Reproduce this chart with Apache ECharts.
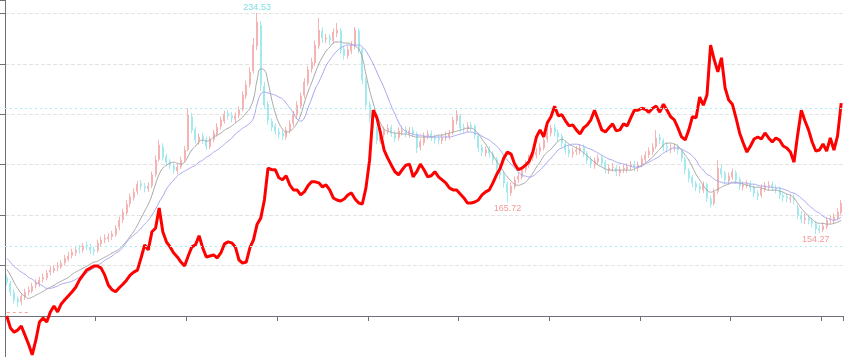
<!DOCTYPE html>
<html><head><meta charset="utf-8">
<script src="https://cdn.jsdelivr.net/npm/echarts@6/dist/echarts.min.js"></script>
<style>html,body{margin:0;padding:0;background:#fff}#c{width:863px;height:357px}</style>
</head><body><div id="c"></div>
<script>
// [open, close, low, high]
const candleData = [
[138.5,136.8,135.6,139.4],[136.5,133.2,131.9,137.3],[133.0,130.3,129.1,134.2],[130.8,129.6,127.9,131.7],[129.8,131.7,128.6,132.9],
[131.5,133.2,130.4,134.5],[133.4,133.9,132.0,135.3],[133.6,135.4,132.8,136.6],[135.8,136.5,134.6,137.9],[136.2,137.6,135.1,138.8],
[137.9,138.6,136.7,140.0],[138.4,140.1,137.5,141.2],[140.5,141.2,139.3,142.6],[141.0,141.9,140.1,143.0],[142.3,142.6,140.8,144.1],
[142.4,143.7,141.6,144.8],[143.9,145.5,142.9,146.7],[145.2,146.3,144.4,147.8],[146.6,147.7,145.5,149.0],[147.5,148.4,146.3,149.6],
[148.9,148.8,147.2,150.4],[148.6,149.9,147.6,151.1],[150.3,149.9,148.4,151.6],[149.6,148.4,147.1,150.8],[148.6,148.1,146.5,149.7],
[148.4,151.0,147.6,152.3],[150.8,152.1,149.9,153.4],[152.4,152.8,151.0,154.2],[152.6,153.2,151.4,154.6],[153.4,154.3,152.2,155.5],
[154.1,156.4,153.3,157.6],[156.8,159.3,155.7,160.6],[159.5,162.2,158.4,163.5],[162.0,165.1,161.2,166.6],[165.4,167.7,164.1,169.0],
[167.5,169.5,166.4,170.9],[169.8,172.4,168.6,173.6],[172.6,171.7,170.2,173.9],[171.5,171.0,169.4,172.8],[170.8,171.7,169.6,173.1],
[171.9,175.7,171.0,177.0],[175.9,181.1,175.0,182.8],[181.4,186.6,180.6,188.4],[186.0,182.2,181.0,187.2],[182.4,180.4,179.1,183.5],
[180.6,179.3,177.8,181.6],[179.0,177.5,176.2,180.0],[177.3,178.6,176.0,179.8],[178.8,181.1,177.9,182.4],[181.3,184.8,180.5,186.2],
[185.0,197.5,184.3,200.0],[196.8,192.0,190.9,198.3],[192.3,188.4,187.1,193.2],[188.0,189.5,186.7,190.8],[189.8,188.4,187.0,191.0],
[188.6,186.2,184.8,189.5],[186.0,188.4,185.1,189.7],[188.6,190.9,187.6,192.2],[190.5,193.1,189.6,194.5],[193.4,195.6,192.2,196.9],
[195.3,197.8,194.4,199.0],[198.1,197.1,195.8,199.4],[197.3,196.4,194.9,198.5],[196.0,197.1,194.8,198.4],[197.4,199.3,196.3,200.6],
[199.6,204.7,198.8,206.1],[204.4,208.4,203.3,210.0],[208.7,213.1,207.5,214.8],[213.5,222.9,212.6,225.4],[222.5,231.2,221.0,234.53],
[230.0,208.4,206.2,231.5],[208.0,201.1,199.8,209.5],[201.5,195.6,194.0,202.6],[195.2,193.1,191.6,196.3],[193.4,191.7,190.2,194.5],
[191.3,190.6,189.1,192.7],[190.9,189.8,188.3,192.0],[189.6,192.0,188.5,193.3],[191.8,194.2,190.7,195.6],[194.5,197.8,193.3,199.0],
[197.5,201.1,196.4,202.5],[200.8,204.4,199.7,205.7],[204.7,209.4,203.5,210.8],[209.1,213.8,208.0,215.3],[214.2,216.7,212.9,218.2],
[216.4,222.9,215.3,224.5],[222.6,228.3,221.5,232.7],[228.0,225.4,223.6,229.3],[225.0,225.4,223.5,227.0],[225.8,224.7,222.9,226.9],
[224.4,227.6,223.3,228.9],[227.2,228.3,225.8,230.9],[228.0,221.1,219.6,229.0],[221.4,219.2,217.6,222.7],[219.0,221.1,217.9,222.5],
[220.8,222.9,219.6,224.3],[222.6,228.3,221.4,229.4],[228.0,221.1,219.8,228.9],[221.4,210.2,208.6,222.0],[210.0,201.1,199.4,211.2],
[201.4,196.4,194.8,202.5],[196.6,192.7,191.2,197.5],[192.5,188.4,186.9,193.4],[188.0,190.2,187.1,191.5],[190.4,192.0,189.2,193.3],
[191.8,192.7,190.5,194.2],[193.0,190.9,189.6,194.0],[190.6,189.1,187.7,191.8],[189.4,191.7,188.3,193.0],[191.4,192.0,190.1,193.6],
[192.3,190.9,189.4,193.4],[190.6,191.7,189.3,193.1],[192.0,190.9,189.5,193.2],[190.6,185.5,183.7,191.4],[185.8,187.7,184.6,188.9],
[187.4,189.8,186.4,191.1],[190.0,190.6,188.6,192.0],[190.8,189.5,188.0,191.9],[189.2,188.7,187.2,190.5],[189.0,188.4,186.8,190.2],
[188.2,189.1,186.9,190.6],[189.4,189.8,188.0,191.4],[189.6,190.9,188.5,192.1],[191.2,195.6,190.3,196.8],[195.3,197.5,194.1,199.3],
[197.2,192.7,191.3,198.0],[193.0,192.7,191.0,194.4],[192.4,193.5,191.2,194.9],[193.8,193.1,191.7,195.0],[193.4,190.2,188.9,194.2],
[190.0,185.5,184.1,190.9],[185.8,184.0,182.5,186.9],[183.7,184.8,182.4,186.1],[185.0,183.7,182.1,186.2],[183.4,181.1,179.7,184.3],
[181.4,178.2,176.8,182.2],[178.0,175.7,174.3,179.1],[176.0,172.8,171.2,176.9],[172.5,169.5,165.72,173.4],[169.2,171.7,168.1,173.0],
[171.4,173.9,170.5,175.2],[174.2,175.3,172.9,176.6],[175.0,177.5,174.1,178.7],[177.8,179.7,176.6,181.0],[179.4,181.8,178.3,183.1],
[182.1,183.3,180.8,184.6],[183.0,184.0,181.7,185.4],[184.3,185.8,183.1,187.2],[185.5,188.4,184.6,189.7],[188.7,191.3,187.6,192.7],
[191.0,192.7,189.8,194.0],[193.0,191.3,189.8,194.2],[191.0,189.5,188.0,192.3],[189.8,187.3,185.8,190.6],[187.0,184.8,183.3,188.1],
[185.0,183.7,182.2,186.3],[183.4,184.0,182.0,185.5],[184.3,184.8,182.9,186.2],[184.5,185.5,183.2,186.9],[185.8,183.7,182.3,186.8],
[183.4,181.1,179.7,184.4],[181.4,179.7,178.2,182.6],[179.4,180.8,178.0,182.1],[180.5,181.8,179.4,183.2],[182.1,180.0,178.6,183.0],
[180.3,177.9,176.4,181.1],[177.6,178.2,176.1,179.6],[178.5,178.6,176.9,180.1],[178.3,176.8,175.3,179.4],[176.5,177.5,175.2,178.9],
[177.8,178.2,176.4,179.7],[177.9,178.6,176.6,180.0],[178.9,179.3,177.5,180.8],[179.6,178.6,177.1,180.9],[178.3,179.3,177.0,180.6],
[179.6,181.5,178.5,182.8],[181.2,182.9,180.1,184.3],[183.2,184.4,182.0,185.7],[184.1,185.8,183.0,187.3],[186.1,189.1,185.2,192.0],
[189.4,188.4,186.9,190.6],[188.1,185.8,184.4,189.0],[186.1,185.5,183.9,187.4],[185.2,185.5,183.6,186.9],[185.8,185.9,184.2,187.3],
[186.1,184.8,183.3,187.0],[184.5,181.8,180.4,185.3],[181.5,177.5,176.0,182.3],[177.2,174.6,173.1,178.2],[174.9,172.8,171.3,175.8],
[172.5,171.3,169.8,173.6],[171.6,170.6,169.0,172.8],[170.3,172.0,169.2,173.4],[172.3,167.3,165.9,173.0],[167.0,165.1,164.0,168.2],
[165.4,169.5,164.6,170.8],[169.8,178.2,169.0,181.1],[178.0,176.0,174.6,179.4],[176.3,173.9,172.5,177.2],[173.6,175.3,172.4,176.6],
[175.0,176.8,174.0,178.1],[176.5,173.9,172.5,177.4],[174.2,171.7,170.3,175.0],[171.4,172.0,170.1,173.4],[172.3,172.4,170.9,173.8],
[172.6,171.0,169.6,173.7],[171.2,169.1,167.7,172.0],[169.0,168.1,166.6,170.2],[168.4,171.0,167.5,172.3],[170.8,171.7,169.6,173.1],
[171.5,172.0,170.1,173.5],[172.2,171.3,169.9,173.4],[171.0,170.6,169.0,172.2],[170.8,168.4,167.0,171.6],[168.2,167.7,166.1,169.5],
[167.9,167.3,165.8,169.1],[167.0,167.3,165.6,168.7],[167.5,166.6,165.1,168.6],[163.8,161.2,159.8,165.0],[161.0,159.7,158.2,162.6],
[159.5,160.1,158.0,161.8],[160.4,159.3,157.8,161.4],[159.0,158.2,156.7,160.2],[158.0,156.1,154.27,158.9],[156.3,155.7,154.6,157.5],
[155.9,157.2,155.0,158.4],[157.0,159.3,156.1,160.5],[159.5,159.7,158.0,161.1],[159.4,160.4,158.2,161.8],[160.2,162.2,159.3,163.6],
[162.0,165.5,161.3,166.7]
];
const maShort = [
141.5,139.4,136.8,134.6,132.8,131.7,131.0,131.4,132.1,132.8,
133.5,134.3,135.0,135.7,136.5,137.2,137.9,138.6,139.7,140.5,
141.2,141.9,142.6,143.4,144.1,144.4,145.2,145.9,146.6,147.4,
148.1,148.8,150.3,151.7,153.5,155.3,157.5,160.1,162.6,165.1,
168.4,172.4,176.0,178.2,179.3,180.0,180.4,180.0,179.7,180.4,
182.6,184.8,186.2,187.7,188.4,188.0,188.4,189.5,190.2,190.9,
192.0,192.7,193.5,194.6,195.6,196.7,198.2,200.0,203.3,210.2,
214.2,213.8,209.4,203.3,198.2,194.6,192.4,191.3,191.6,192.7,
194.6,197.5,201.8,205.8,209.1,212.7,216.0,218.5,220.7,222.1,
223.6,224.0,224.0,223.6,223.6,223.2,222.5,221.4,218.2,212.3,
206.5,201.8,197.5,194.6,192.4,191.6,191.3,190.9,190.9,190.6,
190.6,190.2,189.8,189.5,189.5,189.5,189.5,189.5,189.8,190.2,
190.2,190.6,190.9,191.3,191.6,192.0,192.4,192.7,192.7,192.0,
190.6,188.7,186.9,184.8,182.9,180.8,178.9,176.8,175.0,173.5,
172.4,172.0,172.4,173.1,174.6,176.4,178.6,180.4,182.6,184.0,
185.1,186.6,188.0,188.7,188.0,186.9,186.2,185.5,184.8,183.7,
182.6,181.5,180.4,179.3,178.6,177.9,177.5,177.5,177.5,177.5,
177.5,177.5,177.5,177.9,178.6,179.3,180.0,181.1,182.2,183.7,
185.1,186.6,187.3,187.3,186.9,186.2,184.8,182.9,181.1,178.6,
176.0,173.9,172.0,170.2,169.5,169.9,170.6,171.3,172.0,172.4,
173.1,173.1,172.8,172.4,172.0,171.7,171.3,171.3,171.0,170.6,
170.2,170.2,170.2,169.9,169.5,168.8,168.4,167.3,165.5,163.7,
162.2,160.8,159.7,158.6,158.2,158.2,157.9,157.9,158.2,158.6,
159.3
];
const maLong = [
145.5,144.1,142.6,141.5,140.5,139.7,138.6,137.9,136.8,136.1,
135.4,134.6,134.6,135.0,135.4,136.1,136.5,136.8,137.2,137.9,
138.6,139.4,140.1,141.2,141.9,143.0,143.7,144.8,145.5,146.3,
147.4,148.1,149.5,151.3,152.8,153.9,155.0,156.4,157.9,159.3,
161.2,163.3,165.9,168.0,170.6,172.4,173.9,175.3,176.4,177.1,
177.9,178.6,179.3,180.4,181.1,182.2,182.9,184.0,184.8,185.8,
186.9,188.0,189.1,190.6,191.6,192.7,193.5,194.6,196.4,201.5,
205.1,205.8,205.5,205.1,204.7,204.0,203.3,201.8,200.0,198.2,
196.0,195.3,196.4,200.0,203.3,206.9,209.4,212.3,215.3,217.4,
219.2,220.7,221.8,222.5,222.9,222.9,222.9,222.9,222.2,220.7,
218.5,216.0,213.1,210.2,207.3,204.0,200.7,197.8,194.9,192.7,
191.6,190.9,190.6,190.2,190.2,189.8,189.8,189.5,189.5,189.5,
189.5,189.5,189.5,189.8,190.2,190.6,190.9,191.3,191.3,190.9,
190.6,189.8,189.1,188.4,187.3,186.2,184.8,182.9,181.1,179.7,
178.2,176.8,175.7,175.3,175.0,175.3,176.4,177.5,178.9,180.4,
181.8,183.3,184.8,185.5,186.2,186.6,186.9,186.9,186.6,186.2,
185.5,185.1,184.4,183.7,182.9,182.2,181.5,181.1,180.4,180.0,
179.7,179.3,178.9,178.6,178.6,178.9,179.7,180.4,181.1,181.8,
182.6,183.7,184.4,185.1,185.5,185.5,185.1,184.4,183.7,182.6,
181.1,178.9,177.5,176.0,175.3,174.2,173.5,173.1,172.8,172.8,
172.8,172.8,172.8,172.8,172.8,172.4,172.4,172.0,171.7,171.7,
171.3,171.3,171.0,171.0,170.6,170.2,169.5,169.1,168.4,167.3,
166.2,164.8,163.7,162.6,161.9,160.8,160.1,159.7,159.3,159.7,
160.4
];
const redLine = [
0,-2.4,-3.2,-2.8,-2.0,-3.8,-5.6,-7.7,-4.8,-1.2,
-0.4,-1.2,0.8,2.0,0.8,2.4,3.2,4.0,4.8,5.7,
7.1,8.1,9.1,9.5,9.9,9.9,9.5,8.1,6.1,5.2,
4.8,5.6,6.3,7.1,8.1,8.7,9.1,11.5,14.1,13.1,
16.7,17.4,21.4,16.7,14.7,13.7,12.5,11.7,10.7,9.9,
11.9,13.7,14.1,15.9,13.5,11.7,11.9,12.1,11.5,12.5,
14.3,14.7,14.5,13.7,11.1,10.5,10.7,13.5,15.1,18.2,
19.4,23.0,29.3,29.0,29.0,27.4,27.0,27.8,26.0,25.0,
25.0,24.0,24.6,25.8,26.6,26.6,26.4,25.6,26.0,25.0,
23.4,23.0,22.8,23.2,24.0,24.4,23.2,22.4,22.2,25.4,
30.9,40.8,39.3,36.3,32.9,31.3,29.9,28.6,28.0,29.0,
29.9,30.1,27.6,28.6,30.1,29.0,27.6,27.8,28.6,27.6,
27.0,26.4,25.4,25.0,25.0,24.2,23.4,22.4,22.4,22.6,
23.0,24.0,24.6,25.0,26.4,28.0,29.3,31.3,32.5,32.1,
30.1,29.0,29.3,29.9,30.7,32.5,35.5,36.9,35.5,38.3,
39.5,41.6,39.7,39.9,38.7,37.7,37.9,36.9,36.1,37.3,
37.9,38.9,40.8,38.9,36.9,36.5,37.3,38.1,36.7,36.9,
38.1,37.7,39.3,40.8,40.8,41.2,41.0,40.4,41.2,41.6,
40.4,42.0,40.8,39.5,38.9,37.3,35.5,34.9,36.9,39.5,
39.3,43.4,41.8,43.8,53.7,50.8,48.4,51.2,45.2,42.8,
42.0,39.3,36.3,34.3,32.5,33.7,35.1,35.5,35.1,36.3,
35.3,34.5,35.3,34.9,33.7,33.3,32.5,30.5,35.9,40.8,
38.7,36.9,34.5,32.7,32.9,34.1,32.7,35.3,32.9,35.7,
42.2
];
const maxIndex = 69;
const minIndexes = [138, 223];
const guideLevels = [150, 200];
const baseLevel = 126;

const categories = candleData.map((d, i) => String(i + 1));
const upColor = '#F6B3B3';
const downColor = '#A2EAEE';

const chart = echarts.init(document.getElementById('c'), null, { renderer: 'canvas' });
chart.setOption({
  animation: false,
  grid: { left: 5, right: 20, top: 0, bottom: 0, containLabel: false },
  xAxis: {
    type: 'category', data: categories, boundaryGap: true,
    axisLine: { onZero: true, lineStyle: { color: '#6E7079' } },
    axisTick: { show: true, interval: 24, length: 5, lineStyle: { color: '#6E7079' } },
    axisLabel: { show: false, interval: 24 },
    splitLine: { show: false }
  },
  yAxis: [
    { type: 'value', min: -8.13, max: 62.65, splitNumber: 7,
      axisLine: { show: true, lineStyle: { color: '#6E7079' } },
      axisTick: { show: true },
      axisLabel: { show: false },
      splitLine: { show: true, showMinLine: false, showMaxLine: false,
        lineStyle: { type: 'dashed', color: '#E3E3E3' } } },
    { type: 'value', min: 109.69, max: 239.22, show: false, splitLine: { show: false } }
  ],
  series: [
    { name: 'K', type: 'candlestick', yAxisIndex: 1, data: candleData, barWidth: 1.5,
      itemStyle: { color: upColor, color0: downColor, borderColor: upColor, borderColor0: downColor, borderWidth: 1 },
      markPoint: {
        symbol: 'circle', symbolSize: 0.01, itemStyle: { color: 'rgba(0,0,0,0)' },
        label: { show: true, fontSize: 9, fontFamily: 'sans-serif' },
        data: [
          { coord: [maxIndex, candleData[maxIndex][3]], value: candleData[maxIndex][3],
            label: { position: 'top', distance: 1, color: '#7FDDE3' } }
        ].concat(minIndexes.map(i => ({
            coord: [i, candleData[i][2]], value: candleData[i][2],
            label: { position: 'bottom', distance: 1, color: '#F29A9A' } })))
      },
      markLine: {
        symbol: 'none', silent: true, label: { show: false },
        data: guideLevels.map(v => ({ yAxis: v, lineStyle: { color: '#A8EEF2', type: [2, 3], width: 1 } }))
          .concat([[{ coord: [0, baseLevel], lineStyle: { color: '#F4A3A3', type: [3, 3], width: 1 } }, { coord: [6, baseLevel] }]])
      }
    },
    { name: 'MA20', type: 'line', yAxisIndex: 1, data: maShort, symbol: 'none', smooth: true,
      lineStyle: { width: 1, color: '#A6A6A6' } },
    { name: 'MA60', type: 'line', yAxisIndex: 1, data: maLong, symbol: 'none', smooth: true,
      lineStyle: { width: 1, color: '#A4A4F0' } },
    { name: 'Return', type: 'line', yAxisIndex: 0, data: redLine, symbol: 'emptyCircle', symbolSize: 5,
      lineStyle: { width: 3, color: '#FF0000' }, itemStyle: { color: '#FF0000', borderWidth: 1 } }
  ]
});
</script>
</body></html>
